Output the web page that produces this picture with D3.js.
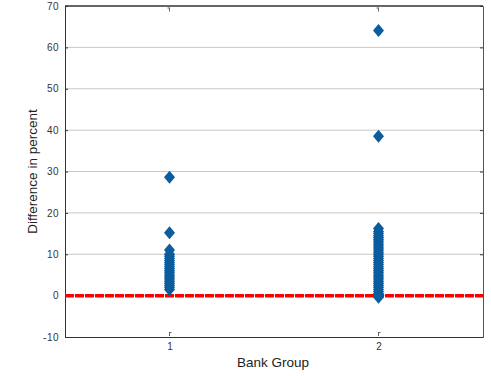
<!DOCTYPE html>
<html><head><meta charset="utf-8">
<script src="https://cdn.jsdelivr.net/npm/d3@7"></script>
<style>body{margin:0;background:#fff}text{font-family:"Liberation Sans",Arial,sans-serif}</style>
</head><body><svg id="c" width="491" height="376"></svg>
<script>
const groups = [1, 2];
const yTicks = [-10, 0, 10, 20, 30, 40, 50, 60, 70];
const group1Values = [28.6, 15.2, 11.0, 10.0, 9.5, 9.0, 8.5, 8.0, 7.5, 7.0, 6.5, 6.0, 5.5, 5.0, 4.5, 4.0, 3.5, 3.0, 2.5, 2.0, 1.5];
const group2Values = [64.1, 38.5, 16.2, 15.5, 15.0, 14.5, 14.0, 13.5, 13.0, 12.5, 12.0, 11.5, 11.0, 10.5, 10.0, 9.5, 9.0, 8.5, 8.0, 7.5, 7.0, 6.5, 6.0, 5.5, 5.0, 4.5, 4.0, 3.5, 3.0, 2.5, 2.0, 1.5, 1.0, 0.5, 0.0, -0.4];
const referenceValue = 0;

const svg = d3.select("#c");
const m = {l: 65, r: 483, t: 6, b: 337};
const x = d3.scaleLinear().domain([0.5, 2.5]).range([m.l, m.r]);
const y = d3.scaleLinear().domain([-10, 70]).range([m.b, m.t]);

// gridlines
svg.append("g").selectAll("line").data(yTicks.filter(d => d > -10 && d < 70)).join("line")
  .attr("x1", m.l).attr("x2", m.r).attr("y1", d => y(d)).attr("y2", d => y(d))
  .attr("stroke", "#c8c8c8").attr("stroke-width", 1);

// left axis
const ya = svg.append("g").attr("transform", `translate(${m.l},0)`)
  .call(d3.axisLeft(y).tickValues(yTicks).tickSize(-3).tickPadding(6).tickFormat(d => String(d)));
ya.select(".domain").attr("stroke", "#333");
ya.selectAll(".tick line").attr("stroke", "#333");
ya.selectAll(".tick text").attr("font-size", 10).attr("fill", "#333").attr("letter-spacing", 0.5);
// right axis
const yr = svg.append("g").attr("transform", `translate(${m.r},0)`)
  .call(d3.axisRight(y).tickValues(yTicks).tickSize(-3).tickFormat(""));
yr.select(".domain").attr("stroke", "#555");
yr.selectAll(".tick line").attr("stroke", "#333");
// bottom axis
const xa = svg.append("g").attr("transform", `translate(0,${m.b})`)
  .call(d3.axisBottom(x).tickValues(groups).tickSize(0).tickPadding(6).tickFormat(d => String(d)));
xa.select(".domain").attr("stroke", "#333");
xa.selectAll(".tick text").attr("font-size", 10).attr("fill", "#333");
// top border
svg.append("line").attr("x1", m.l).attr("x2", m.r).attr("y1", m.t).attr("y2", m.t)
  .attr("stroke", "#333").attr("stroke-width", 1.5);

// small whisker-end marks at top and bottom
groups.forEach(g => {
  const gx = x(g);
  svg.append("path").attr("d", `M${gx},${y(70)+1.5}v4M${gx-2},${y(70)+2}h2`).attr("stroke", "#555").attr("stroke-width", 0.9).attr("fill", "none");
  svg.append("path").attr("d", `M${gx},${y(-10)-1}v-4M${gx},${y(-10)-4.5}h2`).attr("stroke", "#555").attr("stroke-width", 0.9).attr("fill", "none");
});

// reference line
svg.append("line").attr("x1", m.l).attr("x2", m.r).attr("y1", y(referenceValue)).attr("y2", y(referenceValue))
  .attr("stroke", "#ff0000").attr("stroke-width", 3.5).attr("stroke-dasharray", "9,1");

// diamonds
const diamond = "M0,-6.5L5.5,0L0,6.5L-5.5,0Z";
const pts = [];
group1Values.forEach(v => pts.push({g: 1, v}));
group2Values.forEach(v => pts.push({g: 2, v}));
svg.append("g").selectAll("path").data(pts).join("path")
  .attr("d", diamond)
  .attr("transform", d => `translate(${x(d.g)},${y(d.v)})`)
  .attr("fill", "#0b5d9e");

// labels
svg.append("text").attr("x", (m.l + m.r) / 2 - 1).attr("y", 367).attr("text-anchor", "middle")
  .attr("font-size", 13.5).attr("fill", "#222").text("Bank Group");
svg.append("text").attr("transform", `translate(37,${(m.t + m.b) / 2}) rotate(-90)`).attr("text-anchor", "middle")
  .attr("font-size", 13.5).attr("fill", "#222").text("Difference in percent");
</script></body></html>
